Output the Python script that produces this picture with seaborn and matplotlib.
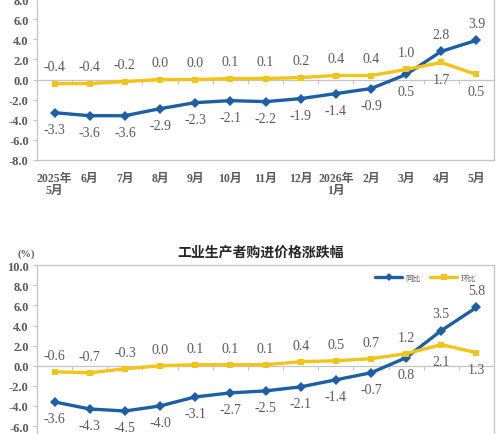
import matplotlib
matplotlib.use("Agg")
import matplotlib.pyplot as plt
import seaborn as sns
import pandas as pd

months = ["2025年\n5月", "6月", "7月", "8月", "9月", "10月", "11月", "12月",
          "2026年\n1月", "2月", "3月", "4月", "5月"]
top_yoy = [-3.3, -3.6, -3.6, -2.9, -2.3, -2.1, -2.2, -1.9, -1.4, -0.9, 0.5, 2.8, 3.9]
top_mom = [-0.4, -0.4, -0.2, 0.0, 0.0, 0.1, 0.1, 0.2, 0.4, 0.4, 1.0, 1.7, 0.5]
bot_yoy = [-3.6, -4.3, -4.5, -4.0, -3.1, -2.7, -2.5, -2.1, -1.4, -0.7, 0.8, 3.5, 5.8]
bot_mom = [-0.6, -0.7, -0.3, 0.0, 0.1, 0.1, 0.1, 0.4, 0.5, 0.7, 1.2, 2.1, 1.3]
yticks = [-8.0, -6.0, -4.0, -2.0, 0.0, 2.0, 4.0, 6.0, 8.0, 10.0]
series_names = ["同比", "环比"]
bottom_title = "工业生产者购进价格涨跌幅"

sns.set_theme(style="white")
plt.rcParams['font.family'] = ['Liberation Serif', 'Noto Sans CJK SC', 'DejaVu Sans']

BLUE = "#1d5fa6"
YELLOW = "#f2c318"
GRAY = "#c4c4c4"
TXT = "#5a5a5a"

fig = plt.figure(figsize=(5.0, 4.35), dpi=100)

def draw(ax, yoy, mom, show_xlabels, show_legend):
    n = len(yoy)
    df = pd.DataFrame({
        "x": list(range(n)) * 2,
        "v": list(yoy) + list(mom),
        "s": [series_names[0]] * n + [series_names[1]] * n,
    })
    sns.lineplot(data=df, x="x", y="v", hue="s", style="s",
                 palette={series_names[0]: BLUE, series_names[1]: YELLOW},
                 markers={series_names[0]: "D", series_names[1]: "s"},
                 dashes=False, markersize=5, linewidth=2.4, ax=ax,
                 markeredgewidth=0, legend=show_legend)
    ax.set_xlim(-0.5, n - 0.5)
    ax.set_ylim(-8, 10)
    ax.set_yticks(yticks)
    ax.set_yticklabels([f"{t:.1f}" for t in yticks], fontsize=9,
                       color=TXT, fontweight="bold")
    ax.set_xticks(range(n))
    if show_xlabels:
        ax.set_xticklabels(months, fontsize=8.5, color=TXT, fontweight="bold",
                           family=['Liberation Serif', 'Noto Sans CJK SC'],
                           linespacing=1.0)
    else:
        ax.set_xticklabels([])
    ax.tick_params(axis="x", length=0, pad=9)
    ax.tick_params(axis="y", length=3, color=GRAY, width=0.8, pad=3, direction="out", left=True)
    ax.set_xlabel("")
    ax.set_ylabel("")
    for sp in ax.spines.values():
        sp.set_color(GRAY)
        sp.set_linewidth(0.9)
    ax.axhline(0, color=GRAY, lw=0.9, zorder=0)
    sec = ax.secondary_xaxis(8 / 18)
    sec.set_xticks([i + 0.5 for i in range(n - 1)])
    sec.set_xticklabels([])
    sec.tick_params(axis="x", length=3, color=GRAY, width=0.8, direction="out")
    sec.spines["bottom"].set_visible(False)
    sec.spines["top"].set_visible(False)
    for i in range(n):
        a, b = yoy[i], mom[i]
        for val, other in ((a, b), (b, a)):
            off = 12 if val >= other else -12
            ax.annotate(f"{val:.1f}", (i, val), xytext=(0, off),
                        textcoords="offset points", ha="center",
                        va="center", fontsize=10, color=TXT)
    if show_legend:
        leg = ax.legend(loc="upper right", bbox_to_anchor=(0.975, 0.99), ncol=2,
                        frameon=False, fontsize=5.5, handlelength=3.6,
                        columnspacing=1.2, handletextpad=0.4, markerscale=0.8)
        for t in leg.get_texts():
            t.set_color(TXT)

ax1 = fig.add_axes([0.074, 0.630, 0.914, 0.416])
draw(ax1, top_yoy, top_mom, True, False)

ax2 = fig.add_axes([0.074, -0.028, 0.914, 0.416])
draw(ax2, bot_yoy, bot_mom, False, True)
ax2.set_title(bottom_title, fontsize=10, fontweight="bold", color="#262626",
              family=['Noto Sans CJK SC'], pad=7, x=0.49)
fig.text(0.035, 0.415, "(%)", fontsize=7.5, color=TXT, fontweight="bold",
         ha="left", va="center")

fig.savefig("out.png", dpi=100, facecolor="white")
